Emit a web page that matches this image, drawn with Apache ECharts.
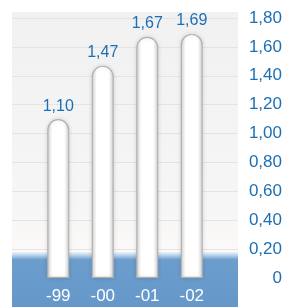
<!DOCTYPE html>
<html>
<head>
<meta charset="utf-8">
<script src="https://cdn.jsdelivr.net/npm/echarts@6/dist/echarts.min.js"></script>
<style>
  html, body { margin: 0; padding: 0; background: #fff; }
  #chart { width: 285px; height: 307px; }
</style>
</head>
<body>
<div id="chart"></div>
<script>
// Jahre und Werte
const years = ['-99', '-00', '-01', '-02']
const values = [1.10, 1.47, 1.67, 1.69]
const yTicks = [0, 0.2, 0.4, 0.6, 0.8, 1.0, 1.2, 1.4, 1.6, 1.8]

const blue = '#1b6fb5'
const font = "'Liberation Sans', Arial, sans-serif"
const fmt = v => (v === 0 ? '0' : v.toFixed(2).replace('.', ','))

const myChart = echarts.init(document.getElementById('chart'))

const option = {
  animation: false,
  graphic: [
    {
      type: 'rect',
      z: 0,
      silent: true,
      shape: { x: 12, y: 12, width: 226, height: 250 },
      style: {
        fill: new echarts.graphic.LinearGradient(0, 0, 0, 1, [
          { offset: 0, color: '#f1f1f1' },
          { offset: 0.8, color: '#f6f6f6' },
          { offset: 1, color: '#fdfbf8' }
        ])
      }
    },
    {
      type: 'rect',
      z: 2,
      silent: true,
      shape: { x: 12, y: 252, width: 226, height: 55 },
      style: {
        fill: new echarts.graphic.LinearGradient(0, 0, 0, 1, [
          { offset: 0, color: '#eef4fa' },
          { offset: 0.06, color: '#b9d2ea' },
          { offset: 0.14, color: '#6b9dcd' },
          { offset: 1, color: '#6598c9' }
        ])
      }
    }
  ],
  grid: [
    { left: 12, right: 47, top: 18, bottom: 29 },
    { left: 36, right: 71, top: 18, bottom: 29 }
  ],
  xAxis: [
    { type: 'category', gridIndex: 0, data: years, show: false },
    {
      type: 'category',
      gridIndex: 1,
      data: years,
      axisLine: { show: false },
      axisTick: { show: false },
      axisLabel: {
        color: '#ffffff',
        fontSize: 17,
        fontFamily: font,
        margin: 10
      },
      z: 6
    }
  ],
  yAxis: [
    {
      type: 'value',
      gridIndex: 0,
      position: 'right',
      min: 0,
      max: 1.8,
      interval: 0.2,
      z: 1,
      axisLine: { show: false },
      axisTick: { show: false },
      splitLine: { lineStyle: { color: '#e4e4e4', width: 1 } },
      axisLabel: {
        color: blue,
        fontSize: 17,
        fontFamily: font,
        align: 'right',
        margin: 44,
        formatter: v => (yTicks.some(t => Math.abs(t - v) < 1e-6) ? fmt(v) : '')
      }
    },
    {
      type: 'value',
      gridIndex: 1,
      min: 0,
      max: 1.8,
      interval: 0.2,
      show: false
    }
  ],
  series: [
    {
      type: 'bar',
      xAxisIndex: 1,
      yAxisIndex: 1,
      z: 5,
      barWidth: 22,
      data: values,
      itemStyle: {
        color: new echarts.graphic.LinearGradient(0, 0, 1, 0, [
          { offset: 0, color: '#d2d2d2' },
          { offset: 0.22, color: '#ffffff' },
          { offset: 0.78, color: '#ffffff' },
          { offset: 1, color: '#d2d2d2' }
        ]),
        borderColor: '#b2b2b2',
        borderWidth: 1.2,
        borderRadius: [11, 11, 0, 0],
        shadowColor: 'rgba(0,0,0,0.12)',
        shadowBlur: 4
      },
      label: {
        show: true,
        position: 'top',
        distance: 5,
        color: blue,
        fontSize: 16,
        fontFamily: font,
        formatter: p => fmt(p.value)
      }
    }
  ]
}

myChart.setOption(option)
</script>
</body>
</html>
